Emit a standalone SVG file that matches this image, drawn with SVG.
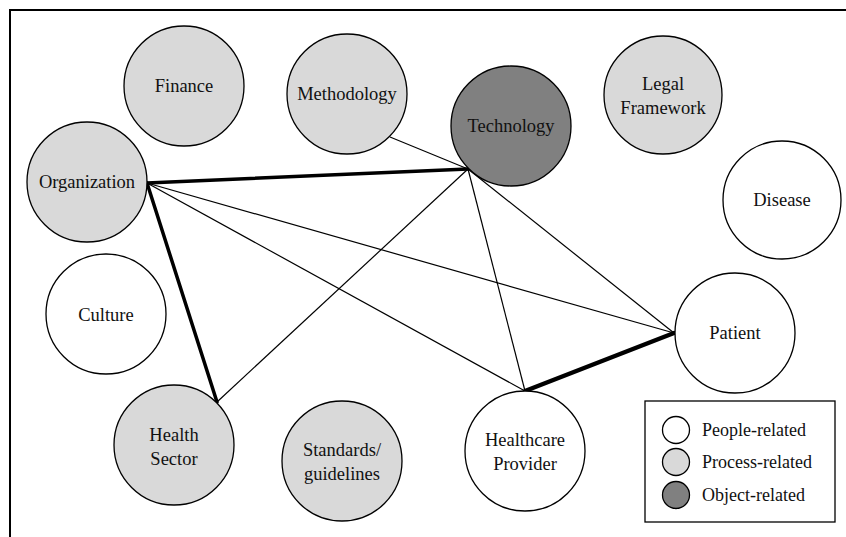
<svg xmlns="http://www.w3.org/2000/svg" width="846" height="537" viewBox="0 0 846 537" font-family="'Liberation Serif', 'Times New Roman', Times, 'DejaVu Serif', serif">
<style>
.n{stroke:#000;stroke-width:1.3}
.people{fill:#fff}
.process{fill:#d9d9d9}
.object{fill:#808080}
text{font-family:'Liberation Serif', 'Times New Roman', Times, 'DejaVu Serif', serif;font-size:18.5px;fill:#111;text-anchor:middle}
.thin{stroke:#000;stroke-width:1.2;fill:none}
.thick{stroke:#000;stroke-width:3.5;fill:none;stroke-linecap:round}
.lg{font-size:18px;text-anchor:start}
</style>
<rect x="10" y="10" width="850" height="540" fill="#fff" stroke="#000" stroke-width="2"/>
<g id="nodes-bg">
<g id="finance"><circle class="n process" cx="184" cy="86" r="60"/><text x="184" y="92">Finance</text></g>
<g id="methodology"><circle class="n process" cx="347" cy="94" r="60"/><text x="347" y="100">Methodology</text></g>
<g id="legal"><circle class="n process" cx="663" cy="95" r="59"/><text x="663" y="90">Legal</text><text x="663" y="114">Framework</text></g>
<g id="disease"><circle class="n people" cx="782" cy="200" r="59"/><text x="782" y="206">Disease</text></g>
<g id="culture"><circle class="n people" cx="106" cy="314" r="60"/><text x="106" y="321">Culture</text></g>
<g id="standards"><circle class="n process" cx="342" cy="461" r="60"/><text x="342" y="456">Standards/</text><text x="342" y="480">guidelines</text></g>
</g>
<g id="connectors">
<line class="thin" x1="390" y1="137" x2="468" y2="169"/>
<line class="thin" x1="147" y1="183" x2="525" y2="391"/>
<line class="thin" x1="147" y1="183" x2="674" y2="333"/>
<line class="thin" x1="468" y1="169" x2="217" y2="402"/>
<line class="thin" x1="468" y1="169" x2="525" y2="391"/>
<line class="thin" x1="468" y1="169" x2="674" y2="333"/>
<line class="thick" x1="147" y1="183" x2="468" y2="169"/>
<line class="thick" x1="147" y1="183" x2="217" y2="402"/>
<line class="thick" x1="525" y1="391" x2="674" y2="333" style="stroke-width:4.5"/>
</g>
<g id="technology"><circle class="n object" cx="511" cy="126" r="60"/><text x="511" y="132">Technology</text></g>
<g id="organization"><circle class="n process" cx="87" cy="182" r="60"/><text x="87" y="188">Organization</text></g>
<g id="health-sector"><circle class="n process" cx="174" cy="445" r="60"/><text x="174" y="441">Health</text><text x="174" y="465">Sector</text></g>
<g id="healthcare-provider"><circle class="n people" cx="525" cy="451" r="60"/><text x="525" y="446">Healthcare</text><text x="525" y="470">Provider</text></g>
<g id="patient"><circle class="n people" cx="735" cy="333" r="60"/><text x="735" y="339">Patient</text></g>
<g id="legend">
<rect x="645" y="401" width="190" height="121" fill="#fff" stroke="#000" stroke-width="1.3"/>
<circle class="n people" cx="676" cy="430" r="13.5"/><text class="lg" x="702" y="436">People-related</text>
<circle class="n process" cx="676" cy="462" r="13.5"/><text class="lg" x="702" y="468">Process-related</text>
<circle class="n object" cx="676" cy="495" r="13.5"/><text class="lg" x="702" y="501">Object-related</text>
</g>
</svg>
